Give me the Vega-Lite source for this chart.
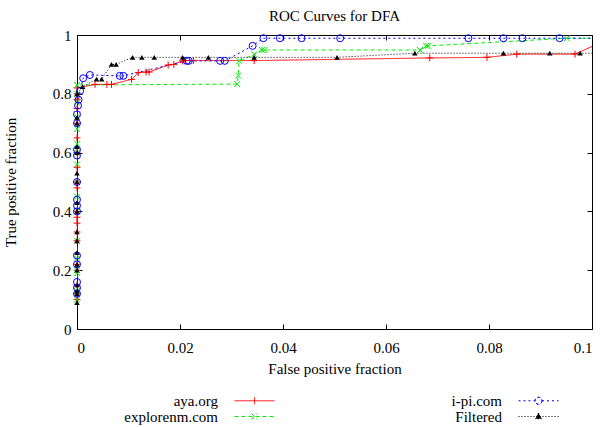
{
  "$schema": "https://vega.github.io/schema/vega-lite/v6.json",
  "width": 515,
  "height": 294,
  "autosize": {"type": "none"},
  "padding": {"left": 77, "top": 35, "right": 9, "bottom": 98},
  "background": "white",
  "config": {
    "font": "Liberation Serif",
    "view": {"stroke": "black", "strokeWidth": 1},
    "axis": {"labelFont": "Liberation Serif", "titleFont": "Liberation Serif", "labelFontSize": 15, "titleFontSize": 15, "titleFontWeight": "normal", "labelColor": "black", "titleColor": "black", "tickColor": "black", "grid": false, "domain": false},
    "legend": {"labelFont": "Liberation Serif", "labelFontSize": 15, "labelColor": "black", "title": null, "orient": "none", "legendX": 170, "legendY": 358, "columns": 2, "columnPadding": 174, "rowPadding": 0, "symbolSize": 100, "symbolStrokeWidth": 1, "symbolOpacity": 1, "labelAlign": "right", "labelOffset": -44},
    "title": {"font": "Liberation Serif", "fontSize": 15, "fontWeight": "normal", "color": "black"}
  },
  "title": {"text": "ROC Curves for DFA", "offset": 4},
  "data": {"values": [
    {"s":"aya.org","fp":0,"tp":0.1},{"s":"aya.org","fp":0,"tp":0.12},{"s":"aya.org","fp":0,"tp":0.15},{"s":"aya.org","fp":0,"tp":0.2},{"s":"aya.org","fp":0,"tp":0.22},{"s":"aya.org","fp":0,"tp":0.3},{"s":"aya.org","fp":0,"tp":0.33},{"s":"aya.org","fp":0,"tp":0.36},{"s":"aya.org","fp":0,"tp":0.38},{"s":"aya.org","fp":0,"tp":0.4},{"s":"aya.org","fp":0,"tp":0.48},{"s":"aya.org","fp":0,"tp":0.5},{"s":"aya.org","fp":0,"tp":0.55},{"s":"aya.org","fp":0,"tp":0.6},{"s":"aya.org","fp":0,"tp":0.65},{"s":"aya.org","fp":0,"tp":0.7},{"s":"aya.org","fp":0,"tp":0.75},{"s":"aya.org","fp":0,"tp":0.78},{"s":"aya.org","fp":0,"tp":0.8},{"s":"aya.org","fp":0,"tp":0.82},
    {"s":"aya.org","fp":0.0035,"tp":0.832},{"s":"aya.org","fp":0.0058,"tp":0.832},{"s":"aya.org","fp":0.0067,"tp":0.832},{"s":"aya.org","fp":0.0106,"tp":0.849},{"s":"aya.org","fp":0.0119,"tp":0.872},{"s":"aya.org","fp":0.0134,"tp":0.874},{"s":"aya.org","fp":0.014,"tp":0.874},{"s":"aya.org","fp":0.0177,"tp":0.898},{"s":"aya.org","fp":0.0188,"tp":0.9},{"s":"aya.org","fp":0.0205,"tp":0.912},{"s":"aya.org","fp":0.021,"tp":0.913},{"s":"aya.org","fp":0.0226,"tp":0.913},{"s":"aya.org","fp":0.0344,"tp":0.913},{"s":"aya.org","fp":0.0685,"tp":0.922},{"s":"aya.org","fp":0.0796,"tp":0.924},{"s":"aya.org","fp":0.0854,"tp":0.935},{"s":"aya.org","fp":0.0967,"tp":0.935},{"s":"aya.org","fp":0.105,"tp":1.0},

    {"s":"explorenm.com","fp":0,"tp":0.1},{"s":"explorenm.com","fp":0,"tp":0.13},{"s":"explorenm.com","fp":0,"tp":0.19},{"s":"explorenm.com","fp":0,"tp":0.2},{"s":"explorenm.com","fp":0,"tp":0.24},{"s":"explorenm.com","fp":0,"tp":0.3},{"s":"explorenm.com","fp":0,"tp":0.4},{"s":"explorenm.com","fp":0,"tp":0.45},{"s":"explorenm.com","fp":0,"tp":0.5},{"s":"explorenm.com","fp":0,"tp":0.56},{"s":"explorenm.com","fp":0,"tp":0.6},{"s":"explorenm.com","fp":0,"tp":0.63},{"s":"explorenm.com","fp":0,"tp":0.68},{"s":"explorenm.com","fp":0,"tp":0.72},{"s":"explorenm.com","fp":0,"tp":0.77},{"s":"explorenm.com","fp":0,"tp":0.8},{"s":"explorenm.com","fp":0,"tp":0.83},
    {"s":"explorenm.com","fp":0.0311,"tp":0.833},{"s":"explorenm.com","fp":0.0313,"tp":0.862},{"s":"explorenm.com","fp":0.0315,"tp":0.912},{"s":"explorenm.com","fp":0.0344,"tp":0.934},{"s":"explorenm.com","fp":0.0359,"tp":0.949},{"s":"explorenm.com","fp":0.0364,"tp":0.949},{"s":"explorenm.com","fp":0.0666,"tp":0.949},{"s":"explorenm.com","fp":0.0678,"tp":0.963},{"s":"explorenm.com","fp":0.0682,"tp":0.963},{"s":"explorenm.com","fp":0.0951,"tp":0.989},{"s":"explorenm.com","fp":0.11,"tp":0.989},

    {"s":"i-pi.com","fp":0,"tp":0.12},{"s":"i-pi.com","fp":0,"tp":0.14},{"s":"i-pi.com","fp":0,"tp":0.16},{"s":"i-pi.com","fp":0,"tp":0.22},{"s":"i-pi.com","fp":0,"tp":0.25},{"s":"i-pi.com","fp":0,"tp":0.4},{"s":"i-pi.com","fp":0,"tp":0.42},{"s":"i-pi.com","fp":0,"tp":0.44},{"s":"i-pi.com","fp":0,"tp":0.5},{"s":"i-pi.com","fp":0,"tp":0.59},{"s":"i-pi.com","fp":0,"tp":0.61},{"s":"i-pi.com","fp":0,"tp":0.7},{"s":"i-pi.com","fp":0,"tp":0.73},{"s":"i-pi.com","fp":0.0002,"tp":0.76},{"s":"i-pi.com","fp":0.0003,"tp":0.78},{"s":"i-pi.com","fp":0.0006,"tp":0.81},{"s":"i-pi.com","fp":0.0012,"tp":0.853},{"s":"i-pi.com","fp":0.0025,"tp":0.864},{"s":"i-pi.com","fp":0.0083,"tp":0.861},{"s":"i-pi.com","fp":0.009,"tp":0.861},{"s":"i-pi.com","fp":0.0213,"tp":0.912},{"s":"i-pi.com","fp":0.0217,"tp":0.912},{"s":"i-pi.com","fp":0.0278,"tp":0.912},{"s":"i-pi.com","fp":0.0287,"tp":0.912},{"s":"i-pi.com","fp":0.0341,"tp":0.963},{"s":"i-pi.com","fp":0.0362,"tp":0.989},{"s":"i-pi.com","fp":0.0394,"tp":0.989},{"s":"i-pi.com","fp":0.0436,"tp":0.989},{"s":"i-pi.com","fp":0.0511,"tp":0.989},{"s":"i-pi.com","fp":0.076,"tp":0.989},{"s":"i-pi.com","fp":0.0828,"tp":0.989},{"s":"i-pi.com","fp":0.0865,"tp":0.989},{"s":"i-pi.com","fp":0.0937,"tp":0.989},{"s":"i-pi.com","fp":0.11,"tp":0.989},

    {"s":"Filtered","fp":0,"tp":0.09},{"s":"Filtered","fp":0,"tp":0.12},{"s":"Filtered","fp":0,"tp":0.13},{"s":"Filtered","fp":0,"tp":0.15},{"s":"Filtered","fp":0,"tp":0.2},{"s":"Filtered","fp":0,"tp":0.22},{"s":"Filtered","fp":0,"tp":0.26},{"s":"Filtered","fp":0,"tp":0.3},{"s":"Filtered","fp":0,"tp":0.33},{"s":"Filtered","fp":0,"tp":0.4},{"s":"Filtered","fp":0,"tp":0.43},{"s":"Filtered","fp":0,"tp":0.5},{"s":"Filtered","fp":0,"tp":0.53},{"s":"Filtered","fp":0,"tp":0.6},{"s":"Filtered","fp":0,"tp":0.62},{"s":"Filtered","fp":0,"tp":0.7},{"s":"Filtered","fp":0,"tp":0.72},{"s":"Filtered","fp":0,"tp":0.8},
    {"s":"Filtered","fp":0.0011,"tp":0.824},{"s":"Filtered","fp":0.0038,"tp":0.85},{"s":"Filtered","fp":0.0048,"tp":0.85},{"s":"Filtered","fp":0.0067,"tp":0.9},{"s":"Filtered","fp":0.0076,"tp":0.9},{"s":"Filtered","fp":0.0108,"tp":0.924},{"s":"Filtered","fp":0.0126,"tp":0.924},{"s":"Filtered","fp":0.015,"tp":0.924},{"s":"Filtered","fp":0.0205,"tp":0.924},{"s":"Filtered","fp":0.0255,"tp":0.924},{"s":"Filtered","fp":0.0344,"tp":0.924},{"s":"Filtered","fp":0.0505,"tp":0.924},{"s":"Filtered","fp":0.0656,"tp":0.938},{"s":"Filtered","fp":0.0828,"tp":0.938},{"s":"Filtered","fp":0.0918,"tp":0.938},{"s":"Filtered","fp":0.0977,"tp":0.938},{"s":"Filtered","fp":0.11,"tp":0.938}
  ]},
  "resolve": {"axis": {"x": "independent", "y": "independent"}},
  "layer": [
    {
      "mark": {"type": "line", "strokeWidth": 1, "clip": true},
      "encoding": {
        "x": {"field": "fp", "type": "quantitative", "scale": {"domain": [0, 0.1], "nice": false, "zero": false},
              "axis": {"orient": "bottom", "title": "False positive fraction", "values": [0, 0.02, 0.04, 0.06, 0.08, 0.1], "format": ".2~f", "tickSize": -5, "labelPadding": 16, "titlePadding": 6, "labelFontSize": 15, "titleFontSize": 15}},
        "y": {"field": "tp", "type": "quantitative", "scale": {"domain": [0, 1], "nice": false},
              "axis": {"orient": "left", "title": "True positive fraction", "values": [0, 0.2, 0.4, 0.6, 0.8, 1], "format": ".1~f", "tickSize": -5, "labelPadding": 11, "titlePadding": 34, "labelFontSize": 15, "titleFontSize": 15}},
        "color": {"field": "s", "type": "nominal",
          "scale": {"domain": ["aya.org", "explorenm.com", "i-pi.com", "Filtered"], "range": ["#ff0000", "#00ee00", "#0000ff", "#000000"]}},
        "strokeDash": {"field": "s", "type": "nominal",
          "scale": {"domain": ["aya.org", "explorenm.com", "i-pi.com", "Filtered"], "range": [[1, 0], [4, 3], [2, 3], [1, 2]]}}
      }
    },
    {
      "transform": [{"filter": "datum.s === 'aya.org' && datum.fp <= 0.1"}],
      "mark": {"type": "point", "filled": false, "size": 49, "strokeWidth": 1, "opacity": 1, "shape": "M-1,0L1,0M0,-1L0,1"},
      "encoding": {
        "x": {"field": "fp", "type": "quantitative", "scale": {"domain": [0, 0.1], "nice": false, "zero": false},
              "axis": {"orient": "top", "title": null, "labels": false, "values": [0, 0.02, 0.04, 0.06, 0.08, 0.1], "tickSize": -5}},
        "y": {"field": "tp", "type": "quantitative", "scale": {"domain": [0, 1], "nice": false},
              "axis": {"orient": "right", "title": null, "labels": false, "values": [0, 0.2, 0.4, 0.6, 0.8, 1], "tickSize": -5}},
        "color": {"field": "s", "type": "nominal"}
      }
    },
    {
      "transform": [{"filter": "datum.s === 'explorenm.com' && datum.fp <= 0.1"}],
      "mark": {"type": "point", "filled": false, "size": 49, "strokeWidth": 1, "opacity": 1, "shape": "M-0.85,-0.85L0.85,0.85M-0.85,0.85L0.85,-0.85"},
      "encoding": {
        "x": {"field": "fp", "type": "quantitative", "axis": null},
        "y": {"field": "tp", "type": "quantitative", "axis": null},
        "color": {"field": "s", "type": "nominal"}
      }
    },
    {
      "transform": [{"filter": "datum.s === 'i-pi.com' && datum.fp <= 0.1"}],
      "mark": {"type": "point", "filled": false, "size": 49, "strokeWidth": 1, "opacity": 1, "shape": "circle"},
      "encoding": {
        "x": {"field": "fp", "type": "quantitative", "axis": null},
        "y": {"field": "tp", "type": "quantitative", "axis": null},
        "color": {"field": "s", "type": "nominal"}
      }
    },
    {
      "transform": [{"filter": "datum.s === 'Filtered' && datum.fp <= 0.1"}],
      "mark": {"type": "point", "filled": true, "size": 30, "opacity": 1, "shape": "triangle-up"},
      "encoding": {
        "x": {"field": "fp", "type": "quantitative", "axis": null},
        "y": {"field": "tp", "type": "quantitative", "axis": null},
        "color": {"field": "s", "type": "nominal"}
      }
    },
    {
      "transform": [{"filter": "false"}],
      "mark": {"type": "point", "filled": false, "size": 100, "strokeWidth": 1, "opacity": 1},
      "encoding": {
        "x": {"field": "fp", "type": "quantitative", "axis": null},
        "y": {"field": "tp", "type": "quantitative", "axis": null},
        "color": {"field": "s", "type": "nominal"},
        "strokeDash": {"field": "s", "type": "nominal"},
        "shape": {"field": "s", "type": "nominal",
          "scale": {"domain": ["aya.org", "explorenm.com", "i-pi.com", "Filtered"], "range": [
            "M-4,0L4,0M0,-0.7L0,0.7",
            "M-4,0L4,0M-0.6,-0.6L0.6,0.6M-0.6,0.6L0.6,-0.6",
            "M-4,0L-0.7,0M0.7,0L4,0M0.7,0A0.7,0.7 0 1,1 -0.7,0A0.7,0.7 0 1,1 0.7,0A0.7,0.7 0 1,0 -0.7,0A0.7,0.7 0 1,0 0.7,0",
            "M-4,0L4,0M0,-0.7L0.6,0.45L-0.6,0.45ZM0,-0.4L0.35,0.3L-0.35,0.3ZM0,-0.1L0.12,0.18L-0.12,0.18Z"]}}
      }
    }
  ]
}
